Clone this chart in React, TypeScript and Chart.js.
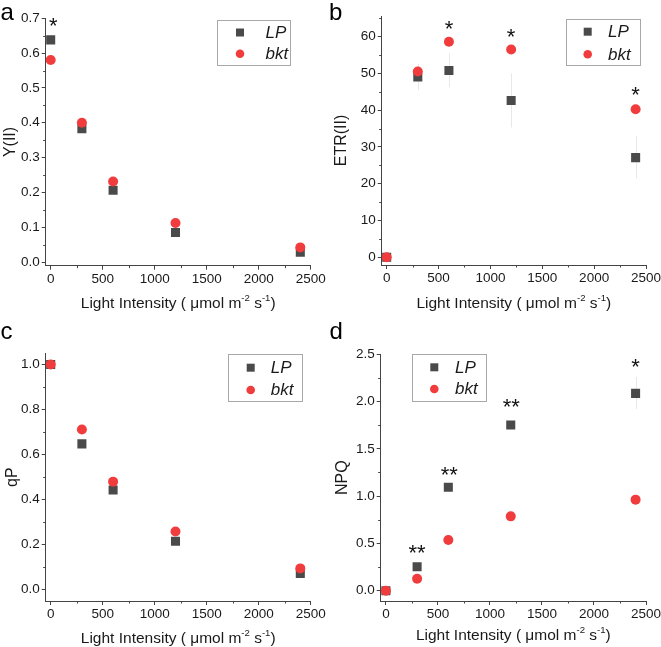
import React, { useEffect, useRef } from 'react';
import { Chart, registerables } from 'chart.js';

Chart.register(...registerables);

// ---------- data ----------
const lightIntensity = [0, 300, 600, 1200, 2400];
const xTicks = [0, 500, 1000, 1500, 2000, 2500];
const xMinorTicks = [250, 750, 1250, 1750, 2250];

const yII_LP = [0.638, 0.383, 0.206, 0.085, 0.028];
const yII_bkt = [0.58, 0.4, 0.231, 0.112, 0.042];
const yII_ticks = [0, 0.1, 0.2, 0.3, 0.4, 0.5, 0.6, 0.7];
const yII_minor = [0.05, 0.15, 0.25, 0.35, 0.45, 0.55, 0.65];
const yII_stars = [{ x: 25, y: 0.693, text: '*' }];

const etr_LP = [0, 49.0, 50.8, 42.6, 27.1];
const etr_LP_low = [0, 45.5, 46.2, 35.3, 21.5];
const etr_LP_high = [0, 52.5, 55.5, 50.0, 33.0];
const etr_bkt = [0, 50.5, 58.6, 56.5, 40.25];
const etr_ticks = [0, 10, 20, 30, 40, 50, 60];
const etr_minor = [5, 15, 25, 35, 45, 55, 65];
const etr_stars = [
  { x: 600, y: 63.6, text: '*' },
  { x: 1200, y: 61.5, text: '*' },
  { x: 2400, y: 45.5, text: '*' },
];

const qP_LP = [1.0, 0.647, 0.442, 0.214, 0.071];
const qP_bkt = [1.0, 0.711, 0.479, 0.257, 0.093];
const qP_ticks = [0, 0.2, 0.4, 0.6, 0.8, 1.0];
const qP_minor = [0.1, 0.3, 0.5, 0.7, 0.9];
const qP_stars: { x: number; y: number; text: string }[] = [];

const npq_LP = [0, 0.254, 1.093, 1.752, 2.087];
const npq_LP_low = [0, 0.254, 1.093, 1.752, 1.92];
const npq_LP_high = [0, 0.254, 1.093, 1.752, 2.26];
const npq_bkt = [0, 0.127, 0.536, 0.786, 0.963];
const npq_ticks = [0, 0.5, 1.0, 1.5, 2.0, 2.5];
const npq_minor = [0.25, 0.75, 1.25, 1.75, 2.25];
const npq_stars = [
  { x: 300, y: 0.455, text: '**' },
  { x: 610, y: 1.277, text: '**' },
  { x: 1205, y: 2.006, text: '**' },
  { x: 2400, y: 2.42, text: '*' },
];

const seriesNames = ['LP', 'bkt'];

// ---------- styles ----------
const LP_COLOR = '#4a4a4a';
const BKT_COLOR = '#f03c3c';
const AXIS_COLOR = '#444444';
const TEXT_COLOR = '#1a1a1a';
const ERR_COLOR = '#e8e8e8';
const FONT = '"Liberation Sans", Arial, sans-serif';

type Panel = {
  label: string;
  left: number;
  top: number;
  width: number;
  height: number;
  area: { l: number; t: number; r: number; b: number };
  xMin: number;
  xMax: number;
  yMin: number;
  yMax: number;
  yTicks: number[];
  yMinor: number[];
  decimals: number;
  yTitle: string;
  yTitleX: number;
  xTitleBaseline: number;
  lp: number[];
  bkt: number[];
  lpLow?: number[];
  lpHigh?: number[];
  stars: { x: number; y: number; text: string }[];
  legend: { x: number; y: number; w: number; h: number; mx: number; tx: number; rows: number[] };
  labelPos: { x: number; y: number };
};

const panels: Panel[] = [
  {
    label: 'a', left: 0, top: 0, width: 330, height: 320,
    area: { l: 45.7, t: 18.3, r: 310.7, b: 265.7 },
    xMin: -48, xMax: 2500, yMin: -0.0106, yMax: 0.7,
    yTicks: yII_ticks, yMinor: yII_minor, decimals: 1,
    yTitle: 'Y(II)', yTitleX: 15, xTitleBaseline: 308,
    lp: yII_LP, bkt: yII_bkt, stars: yII_stars,
    legend: { x: 217.3, y: 20, w: 73.4, h: 45, mx: 240, tx: 265.5, rows: [32.5, 53.8] },
    labelPos: { x: 0.5, y: 20 },
  },
  {
    label: 'b', left: 330, top: 0, width: 331, height: 320,
    area: { l: 51.7, t: 16, r: 316, b: 265 },
    xMin: -48, xMax: 2500, yMin: -2.1, yMax: 65.6,
    yTicks: etr_ticks, yMinor: etr_minor, decimals: 0,
    yTitle: 'ETR(II)', yTitleX: 15.5, xTitleBaseline: 308,
    lp: etr_LP, bkt: etr_bkt, lpLow: etr_LP_low, lpHigh: etr_LP_high, stars: etr_stars,
    legend: { x: 235.7, y: 19, w: 74.3, h: 46, mx: 257.7, tx: 278, rows: [31.7, 54.3] },
    labelPos: { x: -1, y: 20 },
  },
  {
    label: 'c', left: 0, top: 320, width: 330, height: 327,
    area: { l: 45.7, t: 33.3, r: 310.7, b: 281 },
    xMin: -48, xMax: 2500, yMin: -0.052, yMax: 1.05,
    yTicks: qP_ticks, yMinor: qP_minor, decimals: 1,
    yTitle: 'qP', yTitleX: 16.5, xTitleBaseline: 322.5,
    lp: qP_LP, bkt: qP_bkt, stars: qP_stars,
    legend: { x: 228, y: 34.3, w: 73.7, h: 46.7, mx: 250.7, tx: 270.7, rows: [47.7, 70] },
    labelPos: { x: 0.5, y: 18.5 },
  },
  {
    label: 'd', left: 330, top: 320, width: 331, height: 327,
    area: { l: 50.7, t: 34.3, r: 316, b: 281 },
    xMin: -50, xMax: 2500, yMin: -0.109, yMax: 2.5,
    yTicks: npq_ticks, yMinor: npq_minor, decimals: 1,
    yTitle: 'NPQ', yTitleX: 17, xTitleBaseline: 320,
    lp: npq_LP, bkt: npq_bkt, lpLow: npq_LP_low, lpHigh: npq_LP_high, stars: npq_stars,
    legend: { x: 81.7, y: 34.3, w: 74, h: 46.7, mx: 104.3, tx: 125, rows: [47.3, 69] },
    labelPos: { x: -0.5, y: 18.5 },
  },
];

function drawMarker(ctx: CanvasRenderingContext2D, style: string, x: number, y: number, size: number, color: string) {
  ctx.fillStyle = color;
  if (style === 'rect') {
    ctx.fillRect(x - size / 2, y - size / 2, size, size);
  } else {
    ctx.beginPath();
    ctx.arc(x, y, size / 2, 0, Math.PI * 2);
    ctx.fill();
  }
}

function drawXTitle(ctx: CanvasRenderingContext2D, cx: number, baseline: number, size: number) {
  const supSize = size * 0.62;
  const parts = [
    { t: 'Light Intensity ( \u03bcmol m', sup: false },
    { t: '-2', sup: true },
    { t: ' s', sup: false },
    { t: '-1', sup: true },
    { t: ')', sup: false },
  ];
  let total = 0;
  const widths = parts.map((p) => {
    ctx.font = `${p.sup ? supSize : size}px ${FONT}`;
    const w = ctx.measureText(p.t).width;
    total += w;
    return w;
  });
  let x = cx - total / 2;
  ctx.fillStyle = TEXT_COLOR;
  ctx.textAlign = 'left';
  ctx.textBaseline = 'alphabetic';
  parts.forEach((p, i) => {
    ctx.font = `${p.sup ? supSize : size}px ${FONT}`;
    ctx.fillText(p.t, x, p.sup ? baseline - size * 0.42 : baseline);
    x += widths[i];
  });
}

function makeDecor(p: Panel) {
  return {
    id: 'decor_' + p.label,
    beforeDatasetsDraw(chart: any) {
      const ctx: CanvasRenderingContext2D = chart.ctx;
      const xs = chart.scales.x;
      const ys = chart.scales.y;
      if (p.lpLow && p.lpHigh) {
        ctx.save();
        ctx.strokeStyle = ERR_COLOR;
        ctx.lineWidth = 1;
        lightIntensity.forEach((xv, i) => {
          const lo = p.lpLow![i];
          const hi = p.lpHigh![i];
          if (hi - lo <= 0) return;
          const px = Math.round(xs.getPixelForValue(xv)) + 0.5;
          ctx.beginPath();
          ctx.moveTo(px, ys.getPixelForValue(lo));
          ctx.lineTo(px, ys.getPixelForValue(hi));
          ctx.stroke();
        });
        ctx.restore();
      }
    },
    afterDraw(chart: any) {
      const ctx: CanvasRenderingContext2D = chart.ctx;
      const xs = chart.scales.x;
      const ys = chart.scales.y;
      const a = chart.chartArea;
      ctx.save();
      // minor ticks
      ctx.strokeStyle = AXIS_COLOR;
      ctx.lineWidth = 1;
      ctx.beginPath();
      xMinorTicks.forEach((v) => {
        const px = Math.round(xs.getPixelForValue(v)) + 0.5;
        ctx.moveTo(px, a.bottom);
        ctx.lineTo(px, a.bottom + 2.5);
      });
      p.yMinor.forEach((v) => {
        if (v > p.yMax) return;
        const py = Math.round(ys.getPixelForValue(v)) + 0.5;
        ctx.moveTo(a.left, py);
        ctx.lineTo(a.left - 2.5, py);
      });
      ctx.stroke();

      // significance stars (value gives glyph centre)
      ctx.fillStyle = '#111';
      ctx.textAlign = 'center';
      ctx.textBaseline = 'alphabetic';
      p.stars.forEach((s) => {
        const size = 22;
        ctx.font = `${size}px ${FONT}`;
        ctx.fillText(s.text, xs.getPixelForValue(s.x), ys.getPixelForValue(s.y) + size * 0.57);
      });

      // legend
      const L = p.legend;
      ctx.strokeStyle = '#a8a8a8';
      ctx.lineWidth = 1;
      ctx.strokeRect(Math.round(L.x) + 0.5, Math.round(L.y) + 0.5, Math.round(L.w), Math.round(L.h));
      const ds = chart.data.datasets;
      ds.forEach((d: any, i: number) => {
        drawMarker(ctx, d.pointStyle, L.mx, L.rows[i], d.pointStyle === 'rect' ? 8 : 8.6, d.backgroundColor);
        ctx.fillStyle = TEXT_COLOR;
        ctx.font = `italic 17px ${FONT}`;
        ctx.textAlign = 'left';
        ctx.textBaseline = 'middle';
        ctx.fillText(seriesNames[i], L.tx, L.rows[i] + 0.5);
      });

      // axis titles
      ctx.save();
      ctx.translate(p.yTitleX, (a.top + a.bottom) / 2);
      ctx.rotate(-Math.PI / 2);
      ctx.font = `16px ${FONT}`;
      ctx.fillStyle = TEXT_COLOR;
      ctx.textAlign = 'center';
      ctx.textBaseline = 'alphabetic';
      ctx.fillText(p.yTitle, 0, 0);
      ctx.restore();
      drawXTitle(ctx, (a.left + a.right) / 2, p.xTitleBaseline, 15.5);

      // panel letter
      ctx.font = `24px ${FONT}`;
      ctx.fillStyle = '#000';
      ctx.textAlign = 'left';
      ctx.textBaseline = 'alphabetic';
      ctx.fillText(p.label, p.labelPos.x, p.labelPos.y);
      ctx.restore();
    },
  };
}

function makeConfig(p: Panel): any {
  const tickFont = { family: FONT, size: 13.5 };
  return {
    type: 'scatter',
    data: {
      datasets: [
        {
          label: seriesNames[0],
          data: lightIntensity.map((x, i) => ({ x, y: p.lp[i] })),
          pointStyle: 'rect',
          pointRadius: 6.4,
          pointHoverRadius: 6.4,
          backgroundColor: LP_COLOR,
          borderWidth: 0,
          order: 1,
        },
        {
          label: seriesNames[1],
          data: lightIntensity.map((x, i) => ({ x, y: p.bkt[i] })),
          pointStyle: 'circle',
          pointRadius: 5,
          pointHoverRadius: 5,
          backgroundColor: BKT_COLOR,
          borderWidth: 0,
          order: 0,
        },
      ],
    },
    options: {
      responsive: false,
      animation: false,
      events: [],
      layout: { padding: { left: 0, top: p.area.t, right: p.width - p.area.r, bottom: 0 } },
      plugins: { legend: { display: false }, tooltip: { enabled: false }, title: { display: false } },
      scales: {
        x: {
          type: 'linear',
          min: p.xMin,
          max: p.xMax,
          afterBuildTicks: (s: any) => {
            s.ticks = xTicks.map((v) => ({ value: v }));
          },
          afterFit: (s: any) => {
            s.height = p.height - p.area.b;
            s.paddingLeft = 0;
            s.paddingRight = 0;
          },
          grid: { drawOnChartArea: false, drawTicks: true, tickLength: 4, color: AXIS_COLOR, tickColor: AXIS_COLOR, lineWidth: 1 },
          border: { display: true, color: AXIS_COLOR, width: 1 },
          ticks: { font: tickFont, color: TEXT_COLOR, padding: 1, maxRotation: 0, autoSkip: false, callback: (v: number) => String(v) },
        },
        y: {
          type: 'linear',
          min: p.yMin,
          max: p.yMax,
          afterBuildTicks: (s: any) => {
            s.ticks = p.yTicks.map((v) => ({ value: v }));
          },
          afterFit: (s: any) => {
            s.width = p.area.l;
            s.paddingTop = 0;
            s.paddingBottom = 0;
          },
          grid: { drawOnChartArea: false, drawTicks: true, tickLength: 4, color: AXIS_COLOR, tickColor: AXIS_COLOR, lineWidth: 1 },
          border: { display: true, color: AXIS_COLOR, width: 1 },
          ticks: { font: tickFont, color: TEXT_COLOR, padding: 2, autoSkip: false, callback: (v: number) => Number(v).toFixed(p.decimals) },
        },
      },
    },
    plugins: [makeDecor(p)],
  };
}

function PanelChart({ p }: { p: Panel }) {
  const ref = useRef<HTMLCanvasElement | null>(null);
  useEffect(() => {
    if (!ref.current) return;
    const chart = new Chart(ref.current, makeConfig(p));
    return () => chart.destroy();
  }, [p]);
  return (
    <div style={{ position: 'absolute', left: p.left, top: p.top, width: p.width, height: p.height }}>
      <canvas ref={ref} width={p.width} height={p.height} style={{ width: p.width, height: p.height, display: 'block' }} />
    </div>
  );
}

export default function App() {
  return (
    <div style={{ position: 'absolute', left: 0, top: 0, width: 661, height: 647, background: '#fff', overflow: 'hidden' }}>
      {panels.map((p) => (
        <PanelChart key={p.label} p={p} />
      ))}
    </div>
  );
}
